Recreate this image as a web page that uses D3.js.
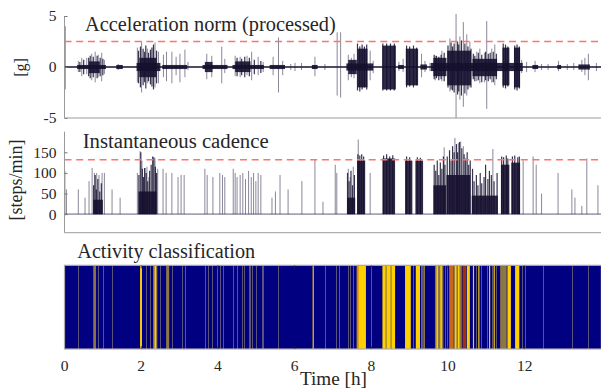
<!DOCTYPE html>
<html><head><meta charset="utf-8">
<script src="https://cdn.jsdelivr.net/npm/d3@7"></script>
<style>body{margin:0;background:#fff}svg{display:block}</style>
</head><body>
<svg id="c" width="601" height="391"></svg>
<script>
// ---------------- data ----------------
const xTicks = [0, 2, 4, 6, 8, 10, 12];
const accTicks = [-5, 0, 5];
const cadTicks = [0, 50, 100, 150];
const accThreshold = 2.5;
const cadThreshold = 132;
const titles = ["Acceleration norm (processed)", "Instantaneous cadence", "Activity classification"];

// dense acceleration stretches: [t0 (h), t1 (h), upper (g), lower (g)]
const accBursts = [
  [0.33, 1.08, 0.2, -0.2], [0.64, 0.92, 0.55, -0.6], [1.35, 1.52, 0.2, -0.2],
  [1.88, 2.50, 0.4, -0.4], [1.95, 2.40, 0.9, -1.0], [2.55, 3.20, 0.2, -0.2],
  [3.60, 4.25, 0.2, -0.2], [3.66, 3.86, 0.5, -0.5], [4.38, 5.20, 0.2, -0.2],
  [4.45, 4.85, 0.55, -0.5], [5.35, 5.75, 0.2, -0.2], [6.45, 6.60, 0.2, -0.2],
  [7.35, 8.05, 0.35, -0.35], [7.40, 7.62, 0.7, -0.7], [7.64, 7.90, 1.8, -2.0],
  [8.29, 8.64, 2.1, -2.2], [8.70, 8.85, 0.2, -0.2], [8.90, 9.22, 1.8, -1.8],
  [9.28, 9.45, 0.25, -0.25], [9.55, 11.95, 0.4, -0.4], [9.62, 9.96, 0.9, -0.9],
  [9.98, 10.60, 1.6, -1.8], [10.64, 11.28, 0.8, -0.9], [11.42, 11.60, 1.9, -1.8],
  [11.72, 11.88, 1.9, -2.0], [12.20, 12.35, 0.2, -0.2], [12.85, 12.95, 0.2, -0.2],
  [13.40, 13.70, 0.25, -0.25]
];
// individual peaks inside the dense stretches: [t (h), upper (g), lower (g)]
const accPeaks = [
  [0.40, 0.5, -0.5], [0.50, 0.7, -0.7], [0.63, 0.9, -0.9], [0.67, 1.1, -1.1], [0.75, 1.0, -1.0],
  [0.85, 1.1, -1.1], [0.93, 0.9, -0.9], [1.00, 0.8, -0.8], [1.93, 1.6, -1.6], [1.98, 2.0, -2.0],
  [2.05, 1.8, -1.8], [2.09, 1.5, -1.5], [2.12, 2.1, -2.1], [2.19, 1.4, -1.4], [2.24, 1.7, -1.7],
  [2.28, 1.9, -1.9], [2.32, 2.2, -2.2], [2.40, 1.6, -1.6], [4.50, 0.9, -0.9], [4.62, 0.8, -0.8],
  [4.70, 1.0, -1.0], [4.82, 0.9, -0.9], [4.95, 0.7, -0.7], [5.12, 0.6, -0.6], [7.64, 2.3, -2.3],
  [7.70, 2.0, -2.4], [7.76, 2.2, -2.2], [7.82, 2.0, -2.0], [7.88, 2.2, -2.2], [8.30, 2.3, -2.3],
  [8.40, 2.3, -2.3], [8.50, 2.3, -2.3], [8.60, 2.3, -2.3], [8.92, 2.1, -2.0], [9.00, 2.0, -1.9],
  [9.10, 2.1, -2.0], [9.18, 1.9, -1.8], [9.64, 1.2, -1.2], [9.70, 1.1, -1.1], [9.76, 1.0, -1.3],
  [9.82, 1.2, -1.2], [9.90, 1.4, -1.4], [10.00, 2.1, -2.0], [10.08, 2.4, -2.2], [10.12, 2.0, -2.3],
  [10.16, 2.3, -2.5], [10.25, 2.5, -2.7], [10.28, 2.2, -2.4], [10.35, 2.6, -2.8], [10.44, 2.3, -2.6],
  [10.52, 2.0, -2.2], [10.60, 1.8, -2.0], [10.66, 1.3, -1.2], [10.70, 1.1, -1.4], [10.79, 1.4, -1.3],
  [10.88, 1.2, -1.5], [10.98, 1.5, -1.3], [11.05, 1.3, -1.4], [11.10, 1.4, -1.2], [11.18, 1.5, -1.5],
  [11.26, 1.3, -1.2], [11.44, 2.3, -2.0], [11.50, 2.2, -2.1], [11.56, 2.0, -1.9], [11.74, 2.1, -2.2],
  [11.80, 2.2, -2.3], [11.86, 2.0, -2.1]
];
// isolated acceleration spikes: [t (h), upper (g), lower (g)]
const accSpikes = [
  [0.02, 4.0, -2.2], [0.36, 0.6, -0.5], [0.45, 0.9, -0.9], [0.58, 0.9, -0.7], [0.71, 1.3, -1.3],
  [0.80, 1.5, -1.5], [0.88, 1.2, -1.0], [0.97, 1.4, -1.4], [1.04, 0.7, -0.7], [1.40, 0.3, -0.3],
  [1.90, 1.9, -1.5], [2.01, 2.5, -2.5], [2.16, 1.8, -1.6], [2.36, 2.4, -2.0], [2.45, 1.5, -1.6],
  [2.58, 1.2, -1.0], [2.66, 1.5, -1.4], [2.80, 1.5, -1.6], [2.91, 1.0, -0.8], [3.01, 1.3, -1.5],
  [3.14, 1.7, -1.0], [3.22, 0.5, -0.3], [3.71, 1.3, -1.2], [3.84, 1.1, -1.0], [4.10, 2.0, -1.6],
  [4.18, 0.8, -0.6], [4.45, 1.1, -0.9], [4.58, 1.0, -1.0], [4.76, 1.1, -0.8], [4.88, 1.5, -1.3],
  [5.05, 1.0, -0.8], [5.18, 0.5, -0.5], [5.44, 1.0, -0.8], [5.58, 2.9, -2.5], [5.69, 0.6, -0.8],
  [5.90, 0.3, -0.3], [6.01, 0.4, -0.4], [6.18, 0.4, -0.3], [6.53, 1.0, -0.9], [6.79, 0.3, -0.3],
  [7.11, 3.4, -2.8], [7.20, 3.4, -3.0], [7.40, 1.2, -1.3], [7.48, 0.9, -1.0], [7.55, 1.3, -1.1],
  [7.97, 1.6, -1.3], [8.05, 0.6, -0.6], [8.72, 0.5, -0.4], [8.83, 0.8, -0.5], [9.31, 1.3, -1.0],
  [9.40, 0.6, -0.5], [9.53, 0.4, -0.4], [9.67, 1.1, -1.3], [9.84, 1.6, -1.4], [10.05, 2.8, -2.4],
  [10.21, 5.2, -5.0], [10.31, 3.0, -3.2], [10.40, 4.4, -3.9], [10.49, 3.2, -2.8], [10.57, 2.5, -2.0],
  [10.75, 1.5, -1.4], [10.83, 1.8, -1.6], [10.95, 1.4, -1.5], [11.01, 4.5, -4.1], [11.14, 1.8, -1.5],
  [11.22, 2.2, -1.8], [11.92, 0.7, -0.6], [12.05, 0.5, -0.5], [12.27, 0.6, -0.5], [12.44, 0.3, -0.3],
  [12.61, 0.3, -0.3], [12.88, 0.6, -0.4], [13.11, 0.3, -0.3], [13.28, 0.4, -0.3], [13.49, 0.7, -0.5],
  [13.57, 0.9, -0.8], [13.66, 1.3, -1.3], [13.87, 0.4, -0.4]
];
// dense cadence stretches: [t0 (h), t1 (h), steps/min]
const cadBlocks = [
  [0.75, 1.00, 35], [1.93, 2.40, 55], [7.37, 7.58, 40], [7.63, 7.84, 130], [8.29, 8.62, 135],
  [8.88, 9.07, 130], [9.15, 9.35, 130], [9.62, 9.95, 70], [9.96, 10.58, 95], [10.62, 11.30, 45],
  [11.38, 11.60, 120], [11.65, 11.88, 125]
];
// cadence values inside dense stretches: [t (h), steps/min]
const cadPeaks = [
  [0.76, 70], [0.80, 95], [0.83, 60], [0.87, 85], [0.92, 55], [0.96, 75], [1.94, 95], [1.99, 150],
  [2.03, 110], [2.06, 90], [2.09, 112], [2.13, 100], [2.17, 80], [2.22, 105], [2.26, 120], [2.30, 140],
  [2.33, 138], [2.37, 115], [2.40, 100], [7.38, 100], [7.42, 80], [7.47, 105], [7.51, 70], [7.56, 95],
  [7.65, 145], [7.70, 142], [7.75, 145], [7.80, 140], [8.32, 142], [8.40, 145], [8.48, 140], [8.56, 143],
  [8.92, 140], [9.00, 138], [9.20, 138], [9.28, 137], [9.64, 120], [9.68, 105], [9.72, 130], [9.76, 95],
  [9.80, 125], [9.84, 110], [9.88, 140], [9.92, 120], [9.98, 140], [10.04, 155], [10.08, 130],
  [10.12, 165], [10.16, 150], [10.22, 170], [10.25, 150], [10.30, 175], [10.36, 160], [10.42, 145],
  [10.46, 135], [10.50, 150], [10.54, 120], [10.58, 130], [10.64, 110], [10.68, 80], [10.74, 95],
  [10.78, 70], [10.84, 100], [10.88, 75], [10.94, 90], [10.98, 120], [11.04, 85], [11.08, 105],
  [11.13, 95], [11.20, 80], [11.28, 100], [11.40, 140], [11.45, 138], [11.52, 142], [11.56, 135],
  [11.68, 140], [11.74, 142], [11.82, 138], [11.86, 140]
];
// isolated cadence values: [t (h), steps/min]
const cadSpikes = [
  [0.01, 105], [0.05, 60], [0.36, 60], [0.535, 40], [0.64, 80], [0.72, 112], [0.78, 100], [0.84, 100],
  [0.90, 95], [0.98, 100], [1.04, 100], [1.24, 60], [1.45, 40], [1.90, 100], [1.97, 153], [2.02, 130],
  [2.10, 112], [2.15, 115], [2.20, 90], [2.36, 135], [2.43, 110], [2.57, 110], [2.65, 100],
  [2.80, 100], [2.96, 90], [3.04, 95], [3.12, 95], [3.66, 110], [3.72, 95], [3.87, 90], [4.05, 100],
  [4.12, 95], [4.18, 90], [4.40, 110], [4.45, 100], [4.50, 90], [4.58, 95], [4.65, 100], [4.72, 85],
  [4.80, 105], [4.87, 90], [4.93, 100], [4.99, 80], [5.05, 100], [5.12, 95], [5.41, 40], [5.50, 55],
  [5.62, 95], [5.83, 60], [6.19, 80], [6.53, 132], [6.74, 30], [7.06, 120], [7.10, 100], [7.40, 110],
  [7.45, 90], [7.53, 115], [7.66, 181], [7.97, 100], [9.90, 162], [10.18, 185], [10.27, 172],
  [10.33, 176], [10.40, 165], [11.17, 158], [11.96, 130], [12.22, 140], [12.30, 120], [12.44, 50],
  [12.87, 100], [13.23, 60], [13.31, 40], [13.49, 20], [13.62, 135], [13.91, 70]
];
// activity classes: [t0 (h), t1 (h), class]  1 = mixed, 2 = walking, 3 = brisk, 4 = running
const actSegments = [
  [0.75, 0.82, 1], [1.97, 2.02, 2], [2.31, 2.42, 1], [2.35, 2.39, 2], [2.65, 2.73, 1], [6.47, 6.50, 2],
  [7.62, 7.86, 2], [7.635, 7.665, 3], [8.29, 8.62, 2], [8.37, 8.40, 1], [8.50, 8.53, 1], [8.88, 9.03, 2],
  [9.16, 9.27, 2], [9.30, 9.40, 1], [9.66, 9.88, 1], [9.70, 9.74, 2], [9.80, 9.84, 2], [10.03, 10.14, 3],
  [10.14, 10.36, 1], [10.18, 10.22, 2], [10.26, 10.30, 2], [10.38, 10.47, 4], [10.49, 10.57, 2],
  [10.65, 10.68, 2], [10.79, 10.82, 2], [11.07, 11.10, 2], [11.19, 11.22, 2], [11.36, 11.53, 1],
  [11.55, 11.64, 2], [11.75, 11.86, 2]
];
// very brief detected activity (single samples), t (h)
const actBrief = [
  0.36, 0.88, 1.01, 1.23, 2.13, 2.23, 2.49, 2.80, 3.06, 3.14, 3.66, 3.74, 3.84, 3.97, 4.06, 4.13, 4.39,
  4.50, 4.62, 4.68, 4.80, 4.85, 4.90, 4.99, 5.14, 5.18, 5.57, 6.78, 7.08, 7.16, 7.39, 7.44, 7.53, 7.98,
  9.10, 9.31, 9.36, 9.92, 9.97, 10.72, 10.86, 11.01, 11.14, 11.25, 11.92, 12.01, 12.47, 13.23, 13.64
];

// ---------------- drawing ----------------
const svg = d3.select("#c");
const FONT = "'Liberation Serif', 'DejaVu Serif', serif";
const TXT = "#262626", AX = "#9a9a9a", SIG = "#16112f";
const x = d3.scaleLinear().domain([0, 14]).range([64.5, 601.4]);
const yA = d3.scaleLinear().domain([-5, 5]).range([118, 16]);
const yC = d3.scaleLinear().domain([-45, 200]).range([232.7, 131.7]);
const actColor = d3.scaleOrdinal().domain([1, 2, 3, 4]).range(["#8d7646", "#ffd000", "#c8661a", "#a0300c"]);

function fit(sel, w) {
  const l = sel.node().getComputedTextLength();
  const fs = parseFloat(sel.attr("font-size"));
  sel.attr("font-size", fs * w / l);
}

// ---- panel 1 : acceleration
const g1 = svg.append("g");
g1.append("line").attr("x1", x(0)).attr("x2", x(14)).attr("y1", yA(0)).attr("y2", yA(0))
  .attr("stroke", SIG).attr("stroke-width", 1.4);
g1.selectAll("line.s").data(accSpikes).join("line")
  .attr("x1", d => x(d[0])).attr("x2", d => x(d[0]))
  .attr("y1", d => yA(d[1])).attr("y2", d => yA(d[2]))
  .attr("stroke", "#2a2545").attr("stroke-opacity", 0.55).attr("stroke-width", 1);
g1.selectAll("rect.b").data(accBursts).join("rect")
  .attr("x", d => x(d[0])).attr("width", d => x(d[1]) - x(d[0]))
  .attr("y", d => yA(d[2])).attr("height", d => yA(d[3]) - yA(d[2]))
  .attr("fill", SIG).attr("opacity", 0.9);
g1.selectAll("line.p").data(accPeaks).join("line")
  .attr("x1", d => x(d[0])).attr("x2", d => x(d[0]))
  .attr("y1", d => yA(d[1])).attr("y2", d => yA(d[2]))
  .attr("stroke", SIG).attr("stroke-opacity", 0.85).attr("stroke-width", 1.2);
g1.append("line").attr("x1", x(0)).attr("x2", x(14)).attr("y1", yA(accThreshold)).attr("y2", yA(accThreshold))
  .attr("stroke", "#ff7272").attr("stroke-width", 1.6).attr("stroke-dasharray", "7,4.7");
const a1 = g1.append("g").attr("transform", `translate(${x(0)},0)`)
  .call(d3.axisLeft(yA).tickValues(accTicks).tickSize(-3).tickPadding(8).tickFormat(d3.format("d")));
g1.append("line").attr("x1", x(0)).attr("x2", x(14)).attr("y1", 118).attr("y2", 118).attr("stroke", AX);
g1.append("text").text(titles[0]).attr("x", 85).attr("y", 30.7).attr("font-family", FONT)
  .attr("font-size", 18).attr("fill", TXT).call(fit, 251);
g1.append("text").text("[g]").attr("transform", "translate(25.5,67.5) rotate(-90)")
  .attr("text-anchor", "middle").attr("font-family", FONT).attr("font-size", 16).attr("fill", TXT);

// ---- panel 2 : cadence
const g2 = svg.append("g");
g2.append("line").attr("x1", x(0)).attr("x2", x(14)).attr("y1", yC(0)).attr("y2", yC(0))
  .attr("stroke", "#a4a1b6").attr("stroke-width", 1.6);
g2.selectAll("line.s").data(cadSpikes).join("line")
  .attr("x1", d => x(d[0])).attr("x2", d => x(d[0]))
  .attr("y1", d => yC(d[1])).attr("y2", yC(0))
  .attr("stroke", "#2a2545").attr("stroke-opacity", 0.55).attr("stroke-width", 1);
g2.selectAll("rect.b").data(cadBlocks).join("rect")
  .attr("x", d => x(d[0])).attr("width", d => x(d[1]) - x(d[0]))
  .attr("y", d => yC(d[2])).attr("height", d => yC(0) - yC(d[2]))
  .attr("fill", SIG).attr("opacity", 0.9);
g2.selectAll("line.p").data(cadPeaks).join("line")
  .attr("x1", d => x(d[0])).attr("x2", d => x(d[0]))
  .attr("y1", d => yC(d[1])).attr("y2", yC(0))
  .attr("stroke", SIG).attr("stroke-opacity", 0.85).attr("stroke-width", 1.2);
g2.append("line").attr("x1", x(0)).attr("x2", x(14)).attr("y1", yC(cadThreshold)).attr("y2", yC(cadThreshold))
  .attr("stroke", "#ff7272").attr("stroke-width", 1.6).attr("stroke-dasharray", "7,4.7");
const a2 = g2.append("g").attr("transform", `translate(${x(0)},0)`)
  .call(d3.axisLeft(yC).tickValues(cadTicks).tickSize(-3).tickPadding(8).tickFormat(d3.format("d")));
g2.append("line").attr("x1", x(0)).attr("x2", x(14)).attr("y1", 232.7).attr("y2", 232.7).attr("stroke", AX);
g2.append("text").text(titles[1]).attr("x", 82.7).attr("y", 147.7).attr("font-family", FONT)
  .attr("font-size", 18).attr("fill", TXT).call(fit, 186);
g2.append("text").text("[steps/min]").attr("transform", "translate(21.5,180) rotate(-90)")
  .attr("text-anchor", "middle").attr("font-family", FONT).attr("font-size", 18).attr("fill", TXT);

[a1, a2].forEach(a => {
  a.select(".domain").attr("stroke", AX);
  a.selectAll(".tick line").attr("stroke", "#777");
  a.selectAll(".tick text").attr("font-family", FONT).attr("font-size", 15.5).attr("fill", TXT);
});
a1.select(".domain").attr("d", `M0,${yA(5)}V${yA(-5)}`);
a2.select(".domain").attr("d", `M0,${yC(200)}V${yC(-45)}`);
a1.selectAll(".tick text").text(d => d < 0 ? "-" + Math.abs(d) : d);

// ---- panel 3 : activity classification
const top3 = 265.3, bot3 = 349;
const g3 = svg.append("g");
g3.append("rect").attr("x", x(0)).attr("y", top3).attr("width", x(14) - x(0)).attr("height", bot3 - top3)
  .attr("fill", "#000080");
g3.selectAll("rect.seg").data(actSegments).join("rect")
  .attr("x", d => x(d[0])).attr("width", d => x(d[1]) - x(d[0]))
  .attr("y", top3).attr("height", bot3 - top3).attr("fill", d => actColor(d[2]));
g3.selectAll("rect.br").data(actBrief).join("rect")
  .attr("x", d => Math.round(x(d))).attr("width", 1)
  .attr("y", top3).attr("height", bot3 - top3).attr("fill", "#5a5578");
g3.append("rect").attr("x", x(0)).attr("y", top3).attr("width", x(14) - x(0)).attr("height", bot3 - top3)
  .attr("fill", "none").attr("stroke", "#ababab").attr("stroke-width", 1.2);
g3.selectAll("line.tt").data(xTicks.slice(1)).join("line")
  .attr("x1", d => x(d)).attr("x2", d => x(d)).attr("y1", top3).attr("y2", top3 + 3)
  .attr("stroke", "#262626").attr("stroke-width", 0.8);
g3.selectAll("line.tb").data(xTicks.slice(1)).join("line")
  .attr("x1", d => x(d)).attr("x2", d => x(d)).attr("y1", bot3).attr("y2", bot3 - 3)
  .attr("stroke", "#262626").attr("stroke-width", 0.8);
g3.selectAll("text.xt").data(xTicks).join("text")
  .attr("x", d => x(d)).attr("y", 371).attr("text-anchor", "middle")
  .attr("font-family", FONT).attr("font-size", 15.5).attr("fill", TXT).text(d => d);
g3.append("text").text(titles[2]).attr("x", 77.3).attr("y", 258.3).attr("font-family", FONT)
  .attr("font-size", 18).attr("fill", TXT).call(fit, 178);
g3.append("text").text("Time [h]").attr("x", 300).attr("y", 385).attr("font-family", FONT)
  .attr("font-size", 17).attr("fill", TXT).call(fit, 67);
</script>
</body></html>
